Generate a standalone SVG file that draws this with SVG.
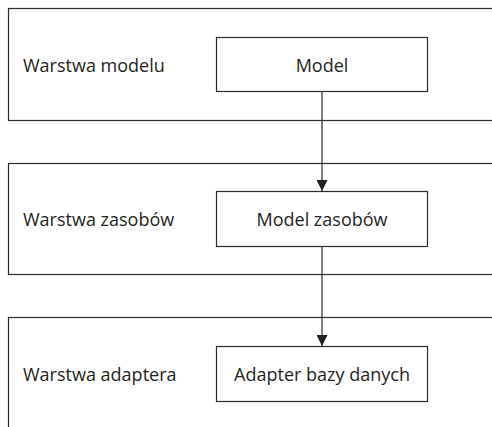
<svg xmlns="http://www.w3.org/2000/svg" width="492" height="427" viewBox="0 0 492 427">
<style>
.layer{fill:#fff;stroke:#2b2b2b;stroke-width:1.2}
.box{fill:#fff;stroke:#2b2b2b;stroke-width:1.2}
.conn{stroke:#2b2b2b;stroke-width:1.2;fill:none}
text{font-family:"Open Sans","Noto Sans",sans-serif;font-size:18px;fill:#231f20}
.c{text-anchor:middle}
</style>
<defs>
<marker id="arr" markerWidth="12" markerHeight="11" refX="11" refY="5.5" orient="auto" markerUnits="userSpaceOnUse">
<path d="M0,0 L11,5.5 L0,11 Z" fill="#231f20"/>
</marker>
</defs>
<g id="layer-model">
<rect class="layer" x="8.5" y="8.5" width="500" height="112"/>
<text x="23" y="72">Warstwa modelu</text>
</g>
<g id="layer-zasobow">
<rect class="layer" x="8.5" y="163.5" width="500" height="111"/>
<text x="23" y="226">Warstwa zasobów</text>
</g>
<g id="layer-adapter">
<rect class="layer" x="8.5" y="317.5" width="500" height="130"/>
<text x="23" y="381">Warstwa adaptera</text>
</g>
<g id="node-model">
<rect class="box" x="216.5" y="37.5" width="211" height="54"/>
<text class="c" x="322" y="72">Model</text>
</g>
<g id="node-model-zasobow">
<rect class="box" x="216.5" y="191.5" width="211" height="55"/>
<text class="c" x="322" y="226">Model zasobów</text>
</g>
<g id="node-adapter">
<rect class="box" x="216.5" y="346.5" width="211" height="55"/>
<text class="c" x="322" y="381">Adapter bazy danych</text>
</g>
<g id="connectors">
<line class="conn" x1="322" y1="92" x2="322" y2="191" marker-end="url(#arr)"/>
<line class="conn" x1="322" y1="247" x2="322" y2="346" marker-end="url(#arr)"/>
</g>
</svg>
